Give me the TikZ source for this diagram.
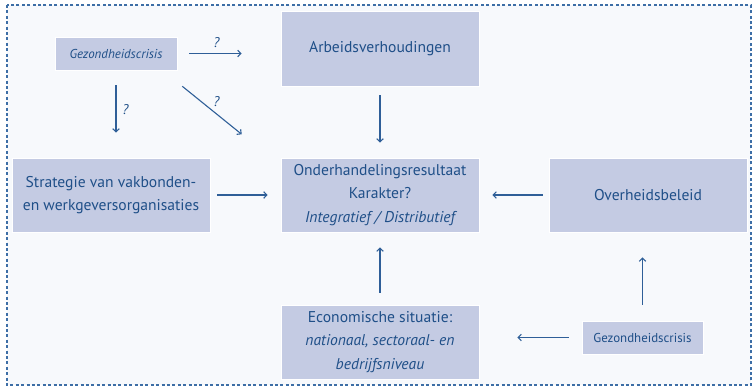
\documentclass[tikz,border=0pt]{standalone}
\usepackage{fontspec}
\setmainfont{PT Sans}
\usetikzlibrary{arrows.meta,positioning}
\definecolor{inkblue}{HTML}{1F4F88}
\definecolor{arrowblue}{HTML}{2F5F98}
\definecolor{boxfill}{HTML}{C4CBE3}
\definecolor{panel}{HTML}{F7F9FC}
\definecolor{frameblue}{HTML}{3D6EA6}
\tikzset{
  box/.style={rectangle, fill=boxfill, draw=white, line width=0.6pt, text=inkblue,
    align=center, inner sep=0pt, font=\fontsize{15.6}{23.5}\selectfont},
  smallbox/.style={box, font=\fontsize{12.9}{15}\selectfont},
  arr/.style={draw=arrowblue, line width=1.1pt, -{Straight Barb[length=3.2pt,width=6.5pt]}},
  qmark/.style={text=inkblue, font=\fontsize{14}{16}\selectfont\itshape, inner sep=1pt}
}
\begin{document}
\begin{tikzpicture}[x=1pt,y=-1pt]
\useasboundingbox (0,0) rectangle (753,388);
% panel and dashed frame
\fill[panel] (7,5) rectangle (751,385);
\draw[frameblue, line width=2pt, dash pattern=on 3pt off 2.4pt] (7,5) rectangle (751,385);

% boxes
\node[smallbox, minimum width=122pt, minimum height=33pt] (gz1) at (116,53.5) {\itshape Gezondheidscrisis};
\node[box, minimum width=198pt, minimum height=75pt] (arb) at (380,48.5) {Arbeidsverhoudingen};
\node[box, minimum width=198pt, minimum height=74pt] (strat) at (111,195) {Strategie van vakbonden-\\en werkgeversorganisaties};
\node[box, minimum width=198pt, minimum height=74pt] (ond) at (380,195) {Onderhandelingsresultaat\\Karakter?\\\itshape Integratief / Distributief};
\node[box, minimum width=198pt, minimum height=74pt] (over) at (648,195) {Overheidsbeleid};
\node[box, minimum width=198pt, minimum height=74pt] (econ) at (380,342) {Economische situatie:\\\itshape nationaal, sectoraal- en\\\itshape bedrijfsniveau};
\node[smallbox, minimum width=121pt, minimum height=33pt] (gz2) at (642.5,337.5) {Gezondheidscrisis};

% connectors
\draw[arr, shorten <=12pt, shorten >=39pt] (gz1.east) -- (arb.west |- gz1.east)
  node[qmark, pos=0.38, above=4pt] (q1) {?};
\draw[arr, shorten <=15pt, shorten >=25pt] (gz1.south) -- (gz1.south |- strat.north)
  node[qmark, pos=0.45, right=5pt] (q2) {?};
\draw[arr] ([shift={(5,16)}]gz1.south east) -- ([shift={(-39,48)}]arb.south west)
  node[qmark, pos=0.45, above right=0pt and 3pt] (q3) {?};
\draw[arr, shorten <=9pt, shorten >=15pt] (arb.south) -- (ond.north);
\draw[arr, shorten <=7pt, shorten >=13pt] (strat.east) -- (ond.west);
\draw[arr, shorten <=6pt, shorten >=13pt] (over.west) -- (ond.east);
\draw[arr, shorten <=12pt, shorten >=15pt] (econ.north) -- (ond.south);
\draw[arr, shorten <=13pt, shorten >=38pt] (gz2.west) -- (econ.east |- gz2.west);
\draw[arr, shorten <=16pt, shorten >=25pt] (gz2.north) -- (gz2.north |- over.south);
\end{tikzpicture}
\end{document}
